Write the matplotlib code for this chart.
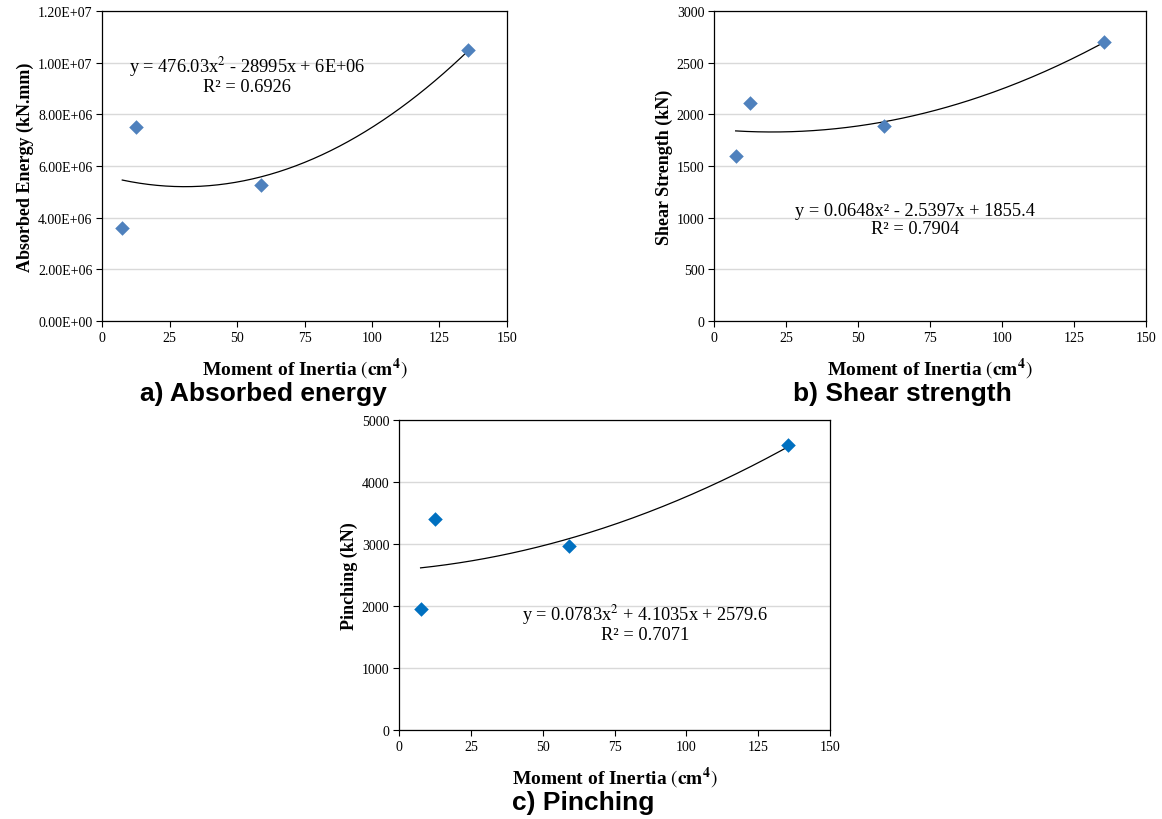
import numpy as np
import matplotlib.pyplot as plt

plt.rcParams['font.family'] = 'Liberation Serif'
plt.rcParams['mathtext.fontset'] = 'stix'

# Data
inertia = [7.5, 12.5, 59.0, 135.5]
energy = [3.6e6, 7.5e6, 5.25e6, 1.05e7]
shear = [1600, 2110, 1885, 2705]
pinching = [1950, 3410, 2965, 4590]

eq_energy = 'y = 476.03x$^2$ - 28995x + 6E+06\nR² = 0.6926'
eq_shear = 'y = 0.0648x² - 2.5397x + 1855.4\nR² = 0.7904'
eq_pinch = 'y = 0.0783x$^2$ + 4.1035x + 2579.6\nR² = 0.7071'

xlab = r'Moment of Inertia $(\mathbf{cm}^{\mathbf{4}})$'

fig = plt.figure(figsize=(11.62, 8.20), dpi=100)


def panel(rect, y, ylim, ystep, ylabel, color, eq, eq_pos, yfmt=None):
    ax = fig.add_axes(rect)
    ax.scatter(inertia, y, marker='D', s=55, color=color, zorder=3, linewidths=0)
    # quadratic trendline like Excel
    c = np.polyfit(inertia, y, 2)
    xs = np.linspace(min(inertia), max(inertia), 200)
    ax.plot(xs, np.polyval(c, xs), color='black', lw=0.9, zorder=2)
    ax.set_xlim(0, 150)
    ax.set_ylim(*ylim)
    ax.set_xticks(np.arange(0, 151, 25))
    yt = np.arange(ylim[0], ylim[1] + ystep / 2, ystep)
    ax.set_yticks(yt)
    if yfmt:
        ax.set_yticklabels([yfmt(v) for v in yt])
    ax.grid(axis='y', color='#d9d9d9', lw=1)
    ax.set_axisbelow(True)
    for s in ax.spines.values():
        s.set_color('black')
        s.set_linewidth(0.9)
    ax.tick_params(labelsize=10, length=4, width=0.8, direction='out',
                   colors='black', pad=3)
    ax.set_ylabel(ylabel, fontsize=13, fontweight='bold', labelpad=3)
    ax.set_xlabel(xlab, fontsize=14, fontweight='bold', labelpad=9)
    ax.text(eq_pos[0], eq_pos[1], eq, transform=ax.transAxes, ha='center',
            va='center', fontsize=13.2, linespacing=1.05)
    return ax


def sci(v):
    return '%.2E' % v


panel([0.0878, 0.6073, 0.3485, 0.378], energy, (0, 1.2e7), 2e6,
      'Absorbed Energy (kN.mm)', '#4F81BD', eq_energy, (0.358, 0.795), sci)
panel([0.6145, 0.6073, 0.3718, 0.378], shear, (0, 3000), 500,
      'Shear Strength (kN)', '#4F81BD', eq_shear, (0.465, 0.327))
panel([0.3434, 0.1085, 0.3709, 0.378], pinching, (0, 5000), 1000,
      'Pinching (kN)', '#0070C0', eq_pinch, (0.571, 0.347))

cap = dict(family='Liberation Sans', fontweight='bold', fontsize=19,
           ha='center', va='center')
fig.text(0.227, 0.52, 'a) Absorbed energy', **cap)
fig.text(0.777, 0.52, 'b) Shear strength', **cap)
fig.text(0.502, 0.021, 'c) Pinching', **cap)

fig.savefig('out.png', dpi=100)
